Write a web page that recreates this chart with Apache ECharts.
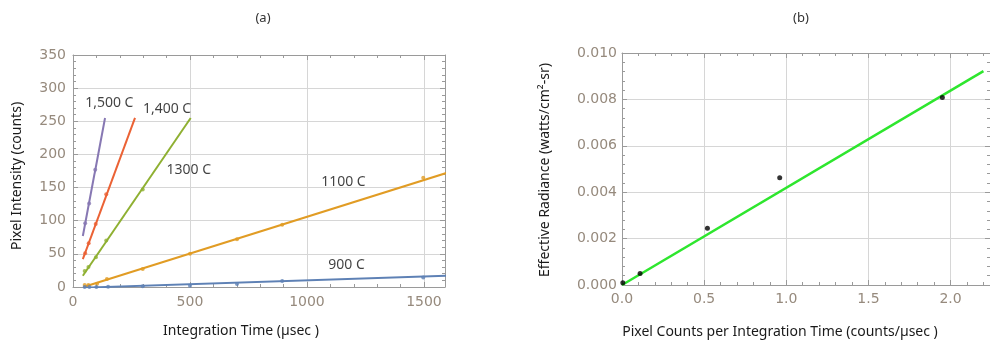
<!DOCTYPE html>
<html>
<head>
<meta charset="utf-8">
<script src="https://cdn.jsdelivr.net/npm/echarts@6/dist/echarts.min.js"></script>
<style>
  html, body { margin: 0; padding: 0; background: #fff; }
  #chart { width: 990px; height: 345px; }
</style>
</head>
<body>
<div id="chart"></div>
<script>
// (a) pixel intensity vs integration time, one fit line + measured points per temperature
const temps = ['1,500 C', '1,400 C', '1300 C', '1100 C', '900 C'];
const tempColors = ['#8778b3', '#eb6235', '#8fb032', '#e19c24', '#5e81b5'];

const fit1500 = [[42, 77], [137, 255]];
const fit1400 = [[42, 42], [265, 255]];
const fit1300 = [[42, 17], [503, 255]];
const fit1100 = [[45, 0], [1600, 172.5]];
const fit900 = [[45, -1], [1600, 17]];

const pts1500 = [[52, 96], [69, 126], [95, 177]];
const pts1400 = [[52, 51], [67, 66], [97, 95], [142, 140]];
const pts1300 = [[50, 24], [66, 30], [98, 45], [142, 70], [298, 147]];
const pts1100 = [[50, 3], [66, 3], [103, 5], [145, 12], [298, 27], [500, 50], [701, 72], [894, 94], [1497, 165]];
const pts900 = [[50, 0], [70, 0], [100, 0], [150, 0.5], [298, 1], [500, 2], [701, 4.5], [894, 9], [1497, 14.5]];

// where the temperature names sit (data coords)
const tempLabelPos = [[155, 278], [402, 269], [495, 176], [1156, 158], [1169, 33]];

// (b) effective radiance vs counts per integration time
const radPts = [[0.005, 0.0001], [0.11, 0.0005], [0.52, 0.00245], [0.96, 0.00462], [1.95, 0.00808]];
const radFit = [[0, 0], [2.2, 0.00922]];

const fits = [fit1500, fit1400, fit1300, fit1100, fit900];
const pts = [pts1500, pts1400, pts1300, pts1100, pts900];

const labelColor = '#968a7d';
const frameColor = '#9a9a9a';
const gridColor = '#d6d6d6';
const tickFont = 'DejaVu Sans';
const textFont = 'Noto Sans';

function mainAxis(opts) {
    return Object.assign({
        type: 'value',
        axisLine: { show: true, onZero: false, lineStyle: { color: frameColor, width: 1 } },
        axisTick: { show: true, inside: true, length: 5, lineStyle: { color: frameColor } },
        minorTick: { show: true, splitNumber: 5, length: 3, lineStyle: { color: frameColor } },
        splitLine: { show: true, lineStyle: { color: gridColor, width: 1 } },
    }, opts);
}

function frameAxis(opts) {
    return Object.assign({
        type: 'value',
        axisLine: { show: true, onZero: false, lineStyle: { color: frameColor, width: 1 } },
        axisTick: { show: true, inside: true, length: 5, lineStyle: { color: frameColor } },
        minorTick: { show: true, splitNumber: 5, length: 3, lineStyle: { color: frameColor } },
        splitLine: { show: false },
        axisLabel: { show: false },
    }, opts);
}

function tickLabel(margin, fmt) {
    return { color: labelColor, fontFamily: tickFont, fontSize: 14, showMaxLabel: false,
        margin: margin, formatter: fmt };
}

const series = [];
fits.forEach((f, i) => {
    series.push({
        type: 'line', xAxisIndex: 0, yAxisIndex: 0, data: f,
        showSymbol: false, lineStyle: { color: tempColors[i], width: 2 }, z: 3,
    });
    series.push({
        type: 'scatter', xAxisIndex: 0, yAxisIndex: 0, data: pts[i],
        symbolSize: 4, itemStyle: { color: tempColors[i] }, z: 4,
    });
});
series.push({
    type: 'scatter', xAxisIndex: 0, yAxisIndex: 0,
    data: tempLabelPos.map((p, i) => ({ value: p, name: temps[i] })),
    symbolSize: 0,
    label: {
        show: true, position: 'inside', formatter: '{b}',
        color: '#111', fontFamily: textFont, fontSize: 14,
    },
    z: 5,
});
series.push({
    type: 'line', xAxisIndex: 2, yAxisIndex: 2, data: radFit,
    showSymbol: false, lineStyle: { color: '#2ee62e', width: 2.5 }, z: 3,
});
series.push({
    type: 'scatter', xAxisIndex: 2, yAxisIndex: 2, data: radPts,
    symbolSize: 5, itemStyle: { color: '#000' }, z: 4,
});

const chart = echarts.init(document.getElementById('chart'));
chart.setOption({
    animation: false,
    title: [
        { text: '(a)', left: 258, top: 7, textAlign: 'center',
          textStyle: { fontSize: 13, fontWeight: 'normal', color: '#333', fontFamily: textFont } },
        { text: '(b)', left: 796, top: 7, textAlign: 'center',
          textStyle: { fontSize: 13, fontWeight: 'normal', color: '#333', fontFamily: textFont } },
    ],
    grid: [
        { left: 73, top: 55, width: 372, height: 232 },
        { left: 73, top: 55, width: 372, height: 232 },
        { left: 622, top: 53, width: 380, height: 232 },
        { left: 622, top: 53, width: 380, height: 232 },
    ],
    xAxis: [
        mainAxis({ gridIndex: 0, min: 0, max: 1590, interval: 500,
            axisLabel: tickLabel(8, v => String(v)) }),
        frameAxis({ gridIndex: 1, position: 'top', min: 0, max: 1590, interval: 500 }),
        mainAxis({ gridIndex: 2, min: 0, max: 2.24, interval: 0.5,
            axisLabel: tickLabel(7, v => v.toFixed(1)) }),
        frameAxis({ gridIndex: 3, position: 'top', min: 0, max: 2.24, interval: 0.5 }),
    ],
    yAxis: [
        mainAxis({ gridIndex: 0, min: 0, max: 350, interval: 50,
            axisLabel: Object.assign(tickLabel(7, v => String(v)), { showMaxLabel: true }) }),
        frameAxis({ gridIndex: 1, position: 'right', min: 0, max: 350, interval: 50 }),
        mainAxis({ gridIndex: 2, min: 0, max: 0.01, interval: 0.002,
            axisLabel: Object.assign(tickLabel(5, v => v.toFixed(3)), { showMaxLabel: true }) }),
        frameAxis({ gridIndex: 3, position: 'right', min: 0, max: 0.01, interval: 0.002 }),
    ],
    graphic: [
        { type: 'text', x: 241, y: 331, style: { text: 'Integration Time (µsec )', font: '14px "Noto Sans"',
            fill: '#1a1a1a', align: 'center', verticalAlign: 'middle' } },
        { type: 'text', x: 17, y: 176, rotation: Math.PI / 2, style: { text: 'Pixel Intensity (counts)',
            font: '14px "Noto Sans"', fill: '#1a1a1a', align: 'center', verticalAlign: 'middle' } },
        { type: 'text', x: 780, y: 332, style: { text: 'Pixel Counts per Integration Time (counts/µsec )',
            font: '14px "Noto Sans"', fill: '#1a1a1a', align: 'center', verticalAlign: 'middle' } },
        { type: 'text', x: 545, y: 170, rotation: Math.PI / 2, style: { text: 'Effective Radiance (watts/cm²-sr)',
            font: '14px "Noto Sans"', fill: '#1a1a1a', align: 'center', verticalAlign: 'middle' } },
    ],
    series: series,
});
</script>
</body>
</html>
